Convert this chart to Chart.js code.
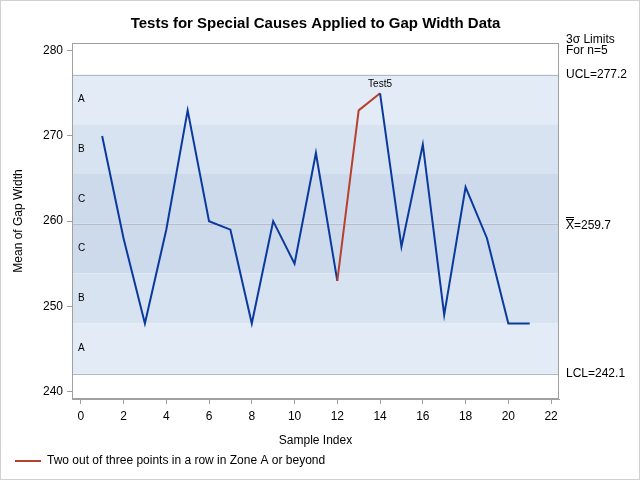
<!DOCTYPE html>
<html lang="en">
<head>
    <meta charset="UTF-8" />
    <title>Tests for Special Causes Applied to Gap Width Data</title>
    <script src="https://cdn.jsdelivr.net/npm/chart.js"></script>
    <style>
        body { margin: 0; padding: 0; background: #fff; }
        #wrap { width: 640px; height: 480px; position: relative; }
    </style>
</head>
<body>
    <div id="wrap"><canvas id="chart" width="640" height="480"></canvas></div>
    <script>
        // sample means
        const sampleIndex = [1, 2, 3, 4, 5, 6, 7, 8, 9, 10, 11, 12, 13, 14, 15, 16, 17, 18, 19, 20, 21];
        const gapMeans = [270, 258, 248, 259, 273, 260, 259, 248, 260, 255, 268, 253, 273, 275, 257, 269, 249, 264, 258, 248, 248];
        // segments starting at these samples are flagged by test 5
        const flaggedStarts = [12, 13];
        const testLabelAt = 14;

        const limits = { lcl: 242.1, center: 259.7, ucl: 277.2 };
        const yTicks = [240, 250, 260, 270, 280];
        const xTicks = [0, 2, 4, 6, 8, 10, 12, 14, 16, 18, 20, 22];

        const blue = '#0A3A9E';
        const red = '#B8402E';
        const sigma = (limits.ucl - limits.center) / 3;
        const fontFamily = '"Liberation Sans", Arial, sans-serif';

        // zone bands: [from, to, colour, letter]
        const zones = [
            [limits.center + 2 * sigma, limits.ucl, '#E2EBF6', 'A'],
            [limits.center + sigma, limits.center + 2 * sigma, '#D8E3F1', 'B'],
            [limits.center, limits.center + sigma, '#CCDAEC', 'C'],
            [limits.center - sigma, limits.center, '#CCDAEC', 'C'],
            [limits.center - 2 * sigma, limits.center - sigma, '#D8E3F1', 'B'],
            [limits.lcl, limits.center - 2 * sigma, '#E2EBF6', 'A']
        ];

        const zonePlugin = {
            id: 'zones',
            beforeDatasetsDraw(chart) {
                const { ctx, chartArea: a, scales: { y } } = chart;
                ctx.save();
                zones.forEach(z => {
                    const top = y.getPixelForValue(z[1]);
                    const bot = y.getPixelForValue(z[0]);
                    ctx.fillStyle = z[2];
                    ctx.fillRect(a.left, top, a.right - a.left, bot - top);
                });
                // limit lines
                ctx.lineWidth = 1;
                [limits.ucl, limits.lcl].forEach(v => {
                    const py = Math.round(y.getPixelForValue(v)) + 0.5;
                    ctx.strokeStyle = '#AEB9C9';
                    ctx.beginPath(); ctx.moveTo(a.left, py); ctx.lineTo(a.right, py); ctx.stroke();
                });
                const cy = Math.round(y.getPixelForValue(limits.center)) + 0.5;
                ctx.strokeStyle = '#B9BCC6';
                ctx.beginPath(); ctx.moveTo(a.left, cy); ctx.lineTo(a.right, cy); ctx.stroke();

                // zone letters
                ctx.fillStyle = '#000';
                ctx.font = '10px ' + fontFamily;
                ctx.textAlign = 'left';
                ctx.textBaseline = 'middle';
                zones.forEach(z => {
                    ctx.fillText(z[3], a.left + 6, y.getPixelForValue((z[0] + z[1]) / 2));
                });
                ctx.restore();
            },
            afterDraw(chart) {
                const { ctx, chartArea: a, scales: { x, y } } = chart;
                ctx.save();
                // plot frame
                ctx.strokeStyle = '#A0A0A0';
                ctx.lineWidth = 1;
                ctx.strokeRect(Math.round(a.left) + 0.5, Math.round(a.top) + 0.5,
                    Math.round(a.right - a.left) - 1, Math.round(a.bottom - a.top) - 1);
                // outer frame
                ctx.strokeStyle = '#D0D0D0';
                ctx.strokeRect(0.5, 0.5, 639, 479);

                // title, centred over the plot area
                ctx.fillStyle = '#000';
                ctx.font = 'bold 15px ' + fontFamily;
                ctx.textAlign = 'center';
                ctx.textBaseline = 'alphabetic';
                ctx.fillText('Tests for Special Causes Applied to Gap Width Data', (a.left + a.right) / 2, 28);

                ctx.font = '12px ' + fontFamily;
                ctx.textAlign = 'left';
                const lx = a.right + 7;
                ctx.fillText('3\u03C3 Limits', lx, 43);
                ctx.fillText('For n=5', lx, 54);
                ctx.textBaseline = 'middle';
                ctx.fillText('UCL=' + limits.ucl.toFixed(1), lx, y.getPixelForValue(limits.ucl));
                ctx.fillText('LCL=' + limits.lcl.toFixed(1), lx, y.getPixelForValue(limits.lcl));
                const cy = Math.round(y.getPixelForValue(limits.center));
                ctx.textBaseline = 'alphabetic';
                ctx.fillText('X=' + limits.center.toFixed(1), lx, cy + 5);
                const xw = ctx.measureText('X').width;
                ctx.strokeStyle = '#000';
                ctx.beginPath();
                ctx.moveTo(lx, cy - 4.5); ctx.lineTo(lx + xw, cy - 4.5);
                ctx.moveTo(lx, cy - 6.5); ctx.lineTo(lx + xw, cy - 6.5);
                ctx.stroke();

                // test label
                ctx.font = '10px ' + fontFamily;
                ctx.textAlign = 'center';
                ctx.textBaseline = 'middle';
                ctx.fillText('Test5', x.getPixelForValue(testLabelAt),
                    y.getPixelForValue(gapMeans[sampleIndex.indexOf(testLabelAt)]) - 9);

                // legend
                ctx.strokeStyle = red;
                ctx.lineWidth = 2;
                ctx.beginPath(); ctx.moveTo(15, 461); ctx.lineTo(41, 461); ctx.stroke();
                ctx.font = '12px ' + fontFamily;
                ctx.textAlign = 'left';
                ctx.fillText('Two out of three points in a row in Zone A or beyond', 47, 461);
                ctx.restore();
            }
        };

        const font12 = { family: fontFamily, size: 12 };
        const axisGrid = { display: true, drawOnChartArea: false, drawTicks: true, tickLength: 5, color: '#A0A0A0' };

        new Chart(document.getElementById('chart'), {
            type: 'line',
            data: {
                datasets: [{
                    data: sampleIndex.map((s, i) => ({ x: s, y: gapMeans[i] })),
                    borderColor: blue,
                    borderWidth: 2,
                    pointRadius: 0,
                    tension: 0,
                    segment: {
                        borderColor: c => flaggedStarts.includes(sampleIndex[c.p0DataIndex]) ? red : blue
                    }
                }]
            },
            options: {
                responsive: false,
                animation: false,
                layout: { padding: { left: 0, right: 81, top: 43, bottom: 0 } },
                plugins: {
                    legend: { display: false },
                    tooltip: { enabled: false },
                    title: { display: false }
                },
                scales: {
                    x: {
                        type: 'linear',
                        min: -0.41,
                        max: 22.37,
                        afterBuildTicks: s => { s.ticks = xTicks.map(v => ({ value: v })); },
                        afterFit: s => { s.height = 81; },
                        grid: axisGrid,
                        border: { color: '#A0A0A0' },
                        ticks: { color: '#000', font: font12, padding: 5, maxRotation: 0, autoSkip: false },
                        title: { display: true, text: 'Sample Index', color: '#000', font: font12, padding: { top: 4, bottom: 32 } }
                    },
                    y: {
                        min: 239.14,
                        max: 280.9,
                        afterBuildTicks: s => { s.ticks = yTicks.map(v => ({ value: v })); },
                        afterFit: s => { s.width = 72; },
                        grid: axisGrid,
                        border: { color: '#A0A0A0' },
                        ticks: { color: '#000', font: font12, padding: 4 },
                        title: { display: true, text: 'Mean of Gap Width', color: '#000', font: font12, padding: { top: 11, bottom: 0 } }
                    }
                }
            },
            plugins: [zonePlugin]
        });
    </script>
</body>
</html>
